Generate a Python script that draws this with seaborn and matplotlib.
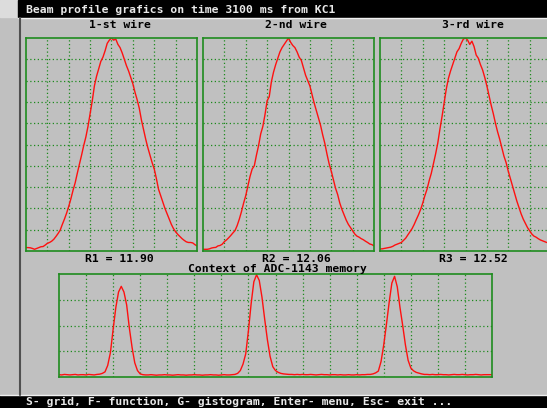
import matplotlib
matplotlib.use("Agg")
import matplotlib.pyplot as plt
from matplotlib.patches import Rectangle
from matplotlib.lines import Line2D
import seaborn as sns

# --- beam profile data (grid units: x 0..80, y 0..100 of full scale) ---
wire_x = list(range(81))

wire1 = [1.6, 1.6, 1.5, 1.2, 0.8, 1.2, 1.6, 2.0, 2.1, 2.8,
         3.6, 4.0, 4.6, 5.5, 6.8, 8.2, 9.8, 12.5, 15.0, 17.8,
         21.0, 24.5, 28.5, 32.0, 36.5, 40.8, 45.0, 49.5, 53.5, 58.5,
         64.5, 70.5, 77.5, 82.0, 85.5, 89.0, 91.0, 94.0, 97.5, 99.0,
         100.0, 99.0, 99.5, 97.0, 95.5, 93.0, 90.0, 87.0, 84.5, 81.5,
         78.5, 74.5, 71.0, 67.0, 61.5, 57.0, 52.5, 48.5, 45.0, 41.5,
         38.5, 34.0, 29.0, 26.0, 23.0, 20.0, 17.5, 15.0, 12.5, 10.5,
         9.0, 7.8, 6.8, 5.8, 5.0, 4.3, 4.0, 4.0, 3.8, 3.0, 2.4]

wire2 = [0.8, 0.8, 0.8, 1.0, 1.4, 1.6, 1.7, 2.4, 2.6, 3.2,
         4.4, 5.2, 6.2, 7.3, 8.5, 9.6, 12.0, 15.0, 18.5, 22.5,
         26.0, 30.5, 35.0, 38.5, 40.0, 45.0, 49.5, 55.0, 58.5, 64.0,
         70.5, 72.5, 79.5, 84.0, 87.5, 90.5, 93.5, 95.5, 97.0, 98.5,
         100.0, 98.0, 96.5, 95.5, 93.5, 91.0, 89.5, 86.0, 82.5, 80.0,
         77.5, 73.5, 69.5, 66.0, 62.5, 59.0, 54.5, 50.5, 45.5, 41.0,
         37.5, 33.5, 29.5, 26.5, 22.5, 19.5, 17.0, 14.5, 12.5, 11.0,
         9.5, 8.0, 7.0, 6.5, 5.8, 5.3, 4.6, 4.0, 3.3, 3.0, 2.4]

wire3 = [1.0, 1.0, 1.2, 1.4, 1.6, 1.8, 2.2, 2.8, 3.2, 3.6,
         4.0, 5.0, 6.0, 7.5, 9.0, 10.5, 12.5, 14.8, 17.0, 19.5,
         22.5, 26.0, 29.0, 33.0, 36.5, 41.0, 45.5, 50.5, 57.0, 63.0,
         69.5, 76.0, 81.0, 84.5, 87.5, 90.5, 93.5, 95.0, 97.5, 99.5,
         100.0, 99.0, 97.0, 98.5, 96.0, 92.0, 90.5, 87.5, 85.0, 81.5,
         77.5, 73.0, 68.5, 64.5, 60.0, 56.0, 52.5, 48.5, 44.5, 41.5,
         37.5, 34.0, 30.5, 27.0, 23.5, 20.5, 17.5, 15.0, 13.0, 11.0,
         9.5, 8.0, 7.0, 6.5, 5.8, 5.2, 4.8, 4.4, 4.0, 3.8, 3.4]

wire_titles = ["1-st wire", "2-nd wire", "3-rd wire"]
wire_results = ["R1 = 11.90", "R2 = 12.06", "R3 = 12.52"]

# --- raw ADC memory dump (x 0..160, y 0..40) ---
adc_x = list(range(161))
adc = [0.9, 0.8, 1.0, 0.9, 0.8, 0.9, 1.0, 0.8, 0.9, 0.9,
       0.8, 1.0, 0.9, 0.8, 1.0, 1.1, 1.4, 2.0, 4.5, 9.5,
       18.5, 27.0, 33.0, 35.2, 33.0, 28.0, 19.0, 11.5, 5.5, 2.5,
       1.2, 0.9, 0.8, 0.8, 0.9, 0.8, 0.7, 0.8, 0.8, 0.9,
       0.8, 0.8, 0.7, 0.8, 0.9, 0.8, 0.8, 0.7, 0.8, 0.8,
       0.9, 0.8, 0.8, 0.7, 0.8, 0.8, 0.9, 0.8, 0.8, 0.7,
       0.8, 0.9, 0.8, 0.8, 0.9, 1.0, 1.4, 2.5, 5.0, 9.0,
       18.0, 28.5, 37.0, 39.7, 37.5, 31.0, 22.5, 14.5, 8.0, 4.0,
       2.5, 1.8, 1.4, 1.2, 1.1, 1.0, 1.0, 0.9, 1.0, 0.9,
       1.0, 0.9, 0.9, 1.0, 0.9, 0.8, 0.9, 1.0, 0.9, 0.9,
       0.8, 0.9, 0.9, 0.8, 0.9, 0.8, 0.8, 0.9, 0.8, 0.8,
       0.9, 0.8, 0.9, 0.9, 1.0, 1.0, 1.2, 1.6, 2.3, 6.0,
       12.5, 20.5, 29.0, 36.5, 39.1, 35.0, 27.0, 20.0, 12.5, 6.5,
       3.5, 2.4, 1.8, 1.5, 1.2, 1.0, 1.0, 0.9, 1.0, 0.9,
       0.9, 1.0, 0.9, 0.9, 0.8, 0.9, 1.0, 0.9, 0.9, 1.0,
       0.9, 0.8, 0.9, 0.9, 1.0, 0.9, 0.8, 0.9, 0.9, 0.9, 0.9]

header = "Beam profile grafics on time 3100 ms from KC1"
adc_title = "Context of ADC-1143 memory"
footer = "S- grid, F- function, G- gistogram, Enter- menu, Esc- exit ..."

W, H = 547, 408
SCREEN = "#c0c0c0"
GRID = "#1e8a1e"
FRAME = "#1f8c1f"
TRACE = "#ff1010"
MONO = ["DejaVu Sans Mono"]

sns.set_style("white")
plt.rcParams["font.family"] = MONO

fig = plt.figure(figsize=(W / 100, H / 100), dpi=100)
fig.patch.set_facecolor(SCREEN)


def px_axes(x0, y0, x1, y1):
    """Axes placed by screen pixel box (top-left origin)."""
    return fig.add_axes([x0 / W, 1 - y1 / H, (x1 - x0) / W, (y1 - y0) / H])


def px_text(x, y, s, color="black", ha="center"):
    fig.text(x / W, 1 - y / H, s, ha=ha, va="center", color=color,
             fontsize=8.2, fontweight="bold", family=MONO)


def style_scope(ax, xmax, ymax):
    ax.set_facecolor(SCREEN)
    ax.set_xlim(0, xmax)
    ax.set_ylim(0, ymax)
    ax.set_xticks(range(10, xmax, 10))
    ax.set_yticks(range(10, ymax, 10))
    ax.tick_params(length=0, labelbottom=False, labelleft=False)
    ax.grid(True, color=GRID, linestyle=(0, (1.0, 2.0)), linewidth=0.9)
    ax.set_xlabel("")
    ax.set_ylabel("")
    for sp in ax.spines.values():
        sp.set_color(FRAME)
        sp.set_linewidth(1.2)


# screen chrome: header bar, footer bar, window edge
fig.add_artist(Rectangle((0, 1 - 17 / H), 18 / W, 17 / H,
                         transform=fig.transFigure, color="#dcdcdc", zorder=0))
fig.add_artist(Rectangle((18 / W, 1 - 17 / H), 1, 17 / H,
                         transform=fig.transFigure, color="black", zorder=0))
fig.add_artist(Line2D([18 / W, 1], [1 - 17.8 / H] * 2, transform=fig.transFigure,
                      color="#f0f0f0", linewidth=1.0))
fig.add_artist(Rectangle((0, 0), 1, 12.5 / H, transform=fig.transFigure,
                         color="black", zorder=0))
fig.add_artist(Line2D([0, 1], [12.8 / H] * 2, transform=fig.transFigure,
                      color="#f0f0f0", linewidth=1.0))
fig.add_artist(Line2D([20 / W] * 2, [12.8 / H, 1 - 18 / H], transform=fig.transFigure,
                      color="#505050", linewidth=1.5))

px_text(26, 9.5, header, color="#e8e8e8", ha="left")
px_text(26, 402, footer, color="#e8e8e8", ha="left")

# three wire profiles
boxes = [(26, 197), (203, 374), (380, 551)]
title_x = [119.5, 296, 473]
for (x0, x1), tx, prof, title, res in zip(boxes, title_x, [wire1, wire2, wire3],
                                          wire_titles, wire_results):
    ax = px_axes(x0, 38, x1, 251)
    style_scope(ax, 80, 100)
    sns.lineplot(x=wire_x, y=prof, ax=ax, color=TRACE, linewidth=1.0)
    style_scope(ax, 80, 100)
    px_text(tx, 25.5, title)
    px_text(tx, 259, res)

# ADC memory trace
px_text(277, 269, adc_title)
axm = px_axes(59, 274, 492, 377)
style_scope(axm, 160, 40)
sns.lineplot(x=adc_x, y=adc, ax=axm, color=TRACE, linewidth=1.0)
style_scope(axm, 160, 40)

fig.savefig("out.png", dpi=100, facecolor=fig.get_facecolor())
